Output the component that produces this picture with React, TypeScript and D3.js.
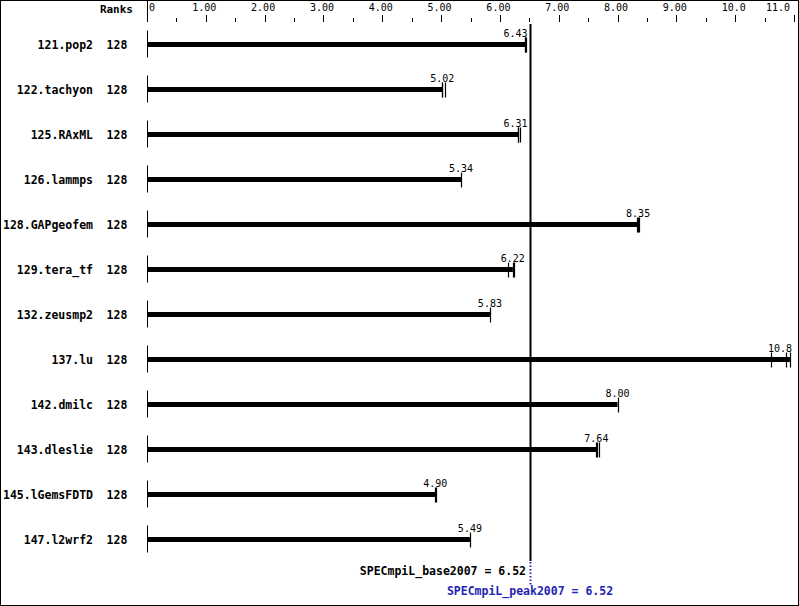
import React from "react";
import * as d3 from "d3";

const benchmarks = ["121.pop2", "122.tachyon", "125.RAxML", "126.lammps", "128.GAPgeofem", "129.tera_tf", "132.zeusmp2", "137.lu", "142.dmilc", "143.dleslie", "145.lGemsFDTD", "147.l2wrf2"];
const ranks = [128, 128, 128, 128, 128, 128, 128, 128, 128, 128, 128, 128];
const medians = [6.43, 5.02, 6.31, 5.34, 8.35, 6.22, 5.83, 10.93, 8.0, 7.64, 4.9, 5.49];
const medianLabels = ["6.43", "5.02", "6.31", "5.34", "8.35", "6.22", "5.83", "10.8", "8.00", "7.64", "4.90", "5.49"];
const runs = [
  [6.42, 6.43, 6.445],
  [5.01, 5.02, 5.06],
  [6.30, 6.31, 6.34],
  [5.34],
  [8.33, 8.35, 8.365],
  [6.13, 6.22, 6.235],
  [5.83],
  [10.61, 10.86, 10.93],
  [8.0],
  [7.63, 7.645, 7.68],
  [4.9, 4.915],
  [5.49],
];
const tickValues = [0, 1, 2, 3, 4, 5, 6, 7, 8, 9, 10, 11];
const tickLabels = ["0", "1.00", "2.00", "3.00", "4.00", "5.00", "6.00", "7.00", "8.00", "9.00", "10.0", "11.0"];
const minorTicks = [0.5, 1.5, 2.5, 3.5, 4.5, 5.5, 6.5, 7.5, 8.5, 9.5, 10.5];
const baseScore = 6.52;
const peakScore = 6.52;

const W = 799;
const H = 606;
const MONO = "'DejaVu Sans Mono', 'Liberation Mono', monospace";
const BLUE = "#2424b4";

export default function App() {
  const x = d3.scaleLinear().domain([0, 11]).range([147, 794]);
  const y = d3.scalePoint<string>().domain(benchmarks).range([44.5, 539.5]);
  const refX = Math.round(x(baseScore)) + 0.5;
  const charW = 6.02;

  const labelPos = (v: number, s: string) => {
    const w = s.length * charW;
    const cx = x(v);
    let start = cx - w / 2;
    let end = cx + w / 2;
    if (start < refX && end > refX - 2 && cx < refX) {
      end = refX - 3;
      start = end - w;
    }
    if (end > 792) {
      end = 792;
      start = end - w;
    }
    return start;
  };

  return (
    <svg width={W} height={H} style={{ position: "absolute", left: 0, top: 0, background: "#fff" }}>
      <rect x={0.5} y={0.5} width={W - 1} height={H - 1} fill="#fff" stroke="#000" strokeWidth={1} />
      {/* header */}
      <text x={133} y={13} textAnchor="end" fontFamily={MONO} fontWeight="bold" fontSize={11} fill="#000">Ranks</text>
      {/* axis */}
      <line x1={147.5} x2={147.5} y1={0} y2={22} stroke="#000" strokeWidth={1} />
      {tickValues.map((v, i) => (
        <g key={"t" + i}>
          {i > 0 && <line x1={Math.round(x(v)) + 0.5} x2={Math.round(x(v)) + 0.5} y1={15} y2={22} stroke="#000" strokeWidth={1} />}
          <text
            x={i === 0 ? x(v) + 2 : i === tickValues.length - 1 ? 790 : x(v) - 1.5}
            y={11}
            textAnchor={i === 0 ? "start" : i === tickValues.length - 1 ? "end" : "middle"}
            fontFamily={MONO}
            fontSize={10}
            fill="#000"
          >
            {tickLabels[i]}
          </text>
        </g>
      ))}
      {minorTicks.map((v, i) => (
        <line key={"m" + i} x1={Math.round(x(v)) + 0.5} x2={Math.round(x(v)) + 0.5} y1={18} y2={22} stroke="#000" strokeWidth={1} />
      ))}
      {/* rows */}
      {benchmarks.map((b, i) => {
        const cy = y(b) as number;
        const s = medianLabels[i];
        return (
          <g key={b}>
            <text x={93} y={cy + 4} textAnchor="end" fontFamily={MONO} fontWeight="bold" fontSize={11.5} fill="#000">{b}</text>
            <text x={117} y={cy + 4} textAnchor="middle" fontFamily={MONO} fontWeight="bold" fontSize={11.5} fill="#000">{ranks[i]}</text>
            <line x1={147.5} x2={147.5} y1={cy - 14} y2={cy + 13} stroke="#000" strokeWidth={1} />
            <line x1={147} x2={x(medians[i])} y1={cy} y2={cy} stroke="#000" strokeWidth={5} />
            {runs[i].map((r, j) => (
              <line key={j} x1={Math.round(x(r)) + 0.5} x2={Math.round(x(r)) + 0.5} y1={cy - 7} y2={cy + 8} stroke="#000" strokeWidth={1.2} />
            ))}
            <text x={labelPos(medians[i], s)} y={cy - 8} fontFamily={MONO} fontSize={10} fill="#000">{s}</text>
          </g>
        );
      })}
      {/* reference line */}
      <line x1={refX} x2={refX} y1={24} y2={561} stroke="#000" strokeWidth={2} />
      <line x1={refX} x2={refX} y1={562} y2={586} stroke={BLUE} strokeWidth={2} strokeDasharray="1.5,2" />
      <text x={526} y={575} textAnchor="end" fontFamily={MONO} fontWeight="bold" fontSize={11.5} fill="#000">
        {`SPECmpiL_base2007 = ${baseScore.toFixed(2)}`}
      </text>
      <text x={530} y={595} textAnchor="middle" fontFamily={MONO} fontWeight="bold" fontSize={11.5} fill={BLUE}>
        {`SPECmpiL_peak2007 = ${peakScore.toFixed(2)}`}
      </text>
    </svg>
  );
}
